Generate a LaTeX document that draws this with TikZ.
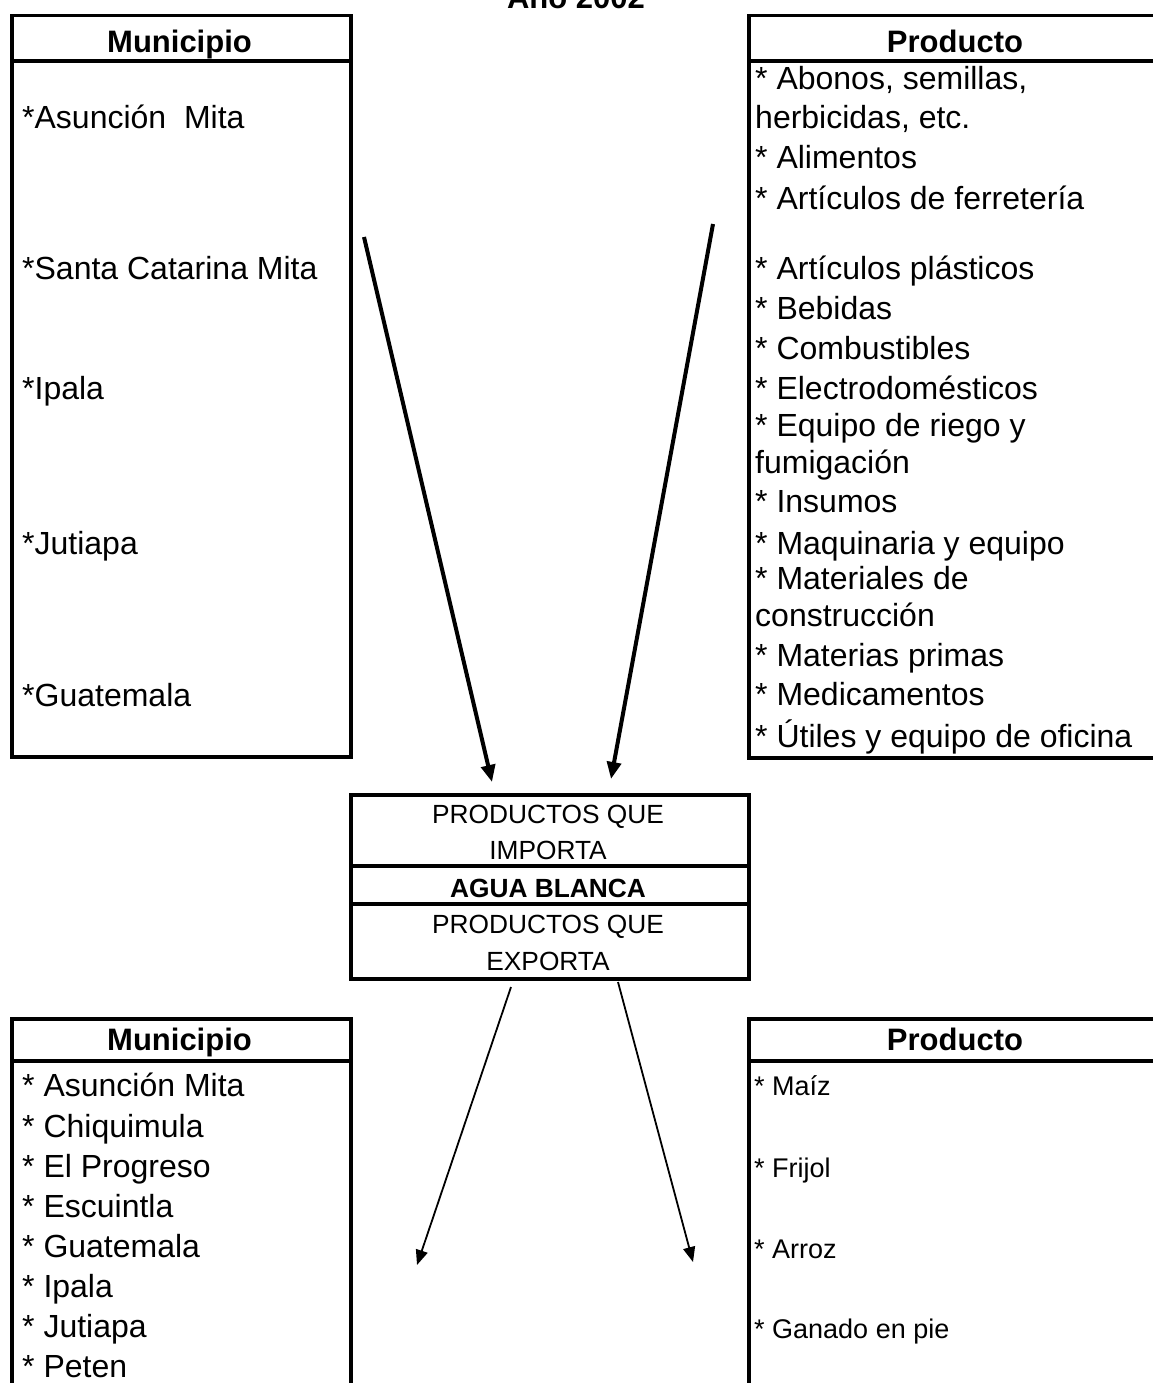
\documentclass[tikz,border=0pt]{standalone}
\usepackage{fontspec}
\setmainfont{Liberation Sans}
\usetikzlibrary{arrows.meta}
\begin{document}
\begin{tikzpicture}[x=1pt,y=-1pt,
  box/.style={draw, line width=3.5pt, rectangle, inner sep=0pt, anchor=north west},
  sep/.style={line width=3.5pt},
  item/.style={anchor=base west, inner sep=0pt, font=\fontsize{32}{38}\selectfont},
  small/.style={anchor=base west, inner sep=0pt, font=\fontsize{27}{32}\selectfont},
  head/.style={anchor=base, inner sep=0pt, font=\fontsize{31}{37}\selectfont\bfseries},
  ctext/.style={anchor=base, inner sep=0pt, font=\fontsize{26.3}{31}\selectfont},
  bigarrow/.style={line width=4pt, -{Triangle[length=17pt,width=14pt]}},
  thinarrow/.style={line width=1.8pt, -{Triangle[length=15pt,width=12pt]}}
]
\useasboundingbox (0,0) rectangle (1152,1383);

% title (cut at top, as in the reference)
\node[head] (title) at (576,9) {Año 2002};

% top-left box
\node[box, minimum width=339pt, minimum height=741pt] (tl) at (10,14) {};
\draw[sep] (10,61) coordinate (tlh1) -- (349,61) coordinate (tlh2);
\node[head] (tlhead) at (179.5,53) {Municipio};
\node[item] (tl1) at (22,129) {*Asunción~~Mita};
\node[item] (tl2) at (22,279) {*Santa Catarina Mita};
\node[item] (tl3) at (22,399) {*Ipala};
\node[item] (tl4) at (22,554) {*Jutiapa};
\node[item] (tl5) at (22,706) {*Guatemala};

% top-right box
\node[box, minimum width=416pt, minimum height=742pt] (tr) at (747,14) {};
\draw[sep] (747,61) coordinate (trh1) -- (1163,61) coordinate (trh2);
\node[head] (trhead) at (955,53) {Producto};
\node[item] (tr1) at (755,90) {* Abonos, semillas,};
\node[item] (tr2) at (755,129) {herbicidas, etc.};
\node[item] (tr3) at (755,169) {* Alimentos};
\node[item] (tr4) at (755,209) {* Artículos de ferretería};
\node[item] (tr5) at (755,279) {* Artículos plásticos};
\node[item] (tr6) at (755,319) {* Bebidas};
\node[item] (tr7) at (755,359) {* Combustibles};
\node[item] (tr8) at (755,399) {* Electrodomésticos};
\node[item] (tr9) at (755,436) {* Equipo de riego y};
\node[item] (tr10) at (755,473) {fumigación};
\node[item] (tr11) at (755,512) {* Insumos};
\node[item] (tr12) at (755,554) {* Maquinaria y equipo};
\node[item] (tr13) at (755,589) {* Materiales de};
\node[item] (tr14) at (755,626) {construcción};
\node[item] (tr15) at (755,666) {* Materias primas};
\node[item] (tr16) at (755,705) {* Medicamentos};
\node[item] (tr17) at (755,747) {* Útiles y equipo de oficina};

% center box
\node[box, minimum width=398pt, minimum height=184pt] (cb) at (349,793) {};
\draw[sep] (349,866) coordinate (cb1) -- (747,866) coordinate (cb2);
\draw[sep] (349,904) coordinate (cb3) -- (747,904) coordinate (cb4);
\node[ctext] (c1) at (548,823) {PRODUCTOS QUE};
\node[ctext] (c2) at (548,859) {IMPORTA};
\node[ctext, font=\fontsize{26.3}{31}\selectfont\bfseries] (c3) at (548,897) {AGUA BLANCA};
\node[ctext] (c4) at (548,933) {PRODUCTOS QUE};
\node[ctext] (c5) at (548,970) {EXPORTA};

% bottom-left box
\node[box, minimum width=339pt, minimum height=400pt] (bl) at (10,1017) {};
\draw[sep] (10,1061) coordinate (blh1) -- (349,1061) coordinate (blh2);
\node[head] (blhead) at (179.5,1050) {Municipio};
\node[item] (bl1) at (22,1096) {* Asunción Mita};
\node[item] (bl2) at (22,1137) {* Chiquimula};
\node[item] (bl3) at (22,1177) {* El Progreso};
\node[item] (bl4) at (22,1217) {* Escuintla};
\node[item] (bl5) at (22,1257) {* Guatemala};
\node[item] (bl6) at (22,1297) {* Ipala};
\node[item] (bl7) at (22,1337) {* Jutiapa};
\node[item] (bl8) at (22,1377) {* Peten};

% bottom-right box
\node[box, minimum width=416pt, minimum height=400pt] (br) at (747,1017) {};
\draw[sep] (747,1061) coordinate (brh1) -- (1163,1061) coordinate (brh2);
\node[head] (brhead) at (955,1050) {Producto};
\node[small] (br1) at (754,1095) {* Maíz};
\node[small] (br2) at (754,1177) {* Frijol};
\node[small] (br3) at (754,1258) {* Arroz};
\node[small] (br4) at (754,1338) {* Ganado en pie};

% arrows
\coordinate (a1s) at (364,237);  \coordinate (a1e) at (492,782);
\coordinate (a2s) at (713,224);  \coordinate (a2e) at (611,779);
\coordinate (a3s) at (511,987);  \coordinate (a3e) at (417,1265);
\coordinate (a4s) at (618,982);  \coordinate (a4e) at (693,1262);
\draw[bigarrow] (a1s) -- (a1e);
\draw[bigarrow] (a2s) -- (a2e);
\draw[thinarrow] (a3s) -- (a3e);
\draw[thinarrow] (a4s) -- (a4e);
\end{tikzpicture}
\end{document}
